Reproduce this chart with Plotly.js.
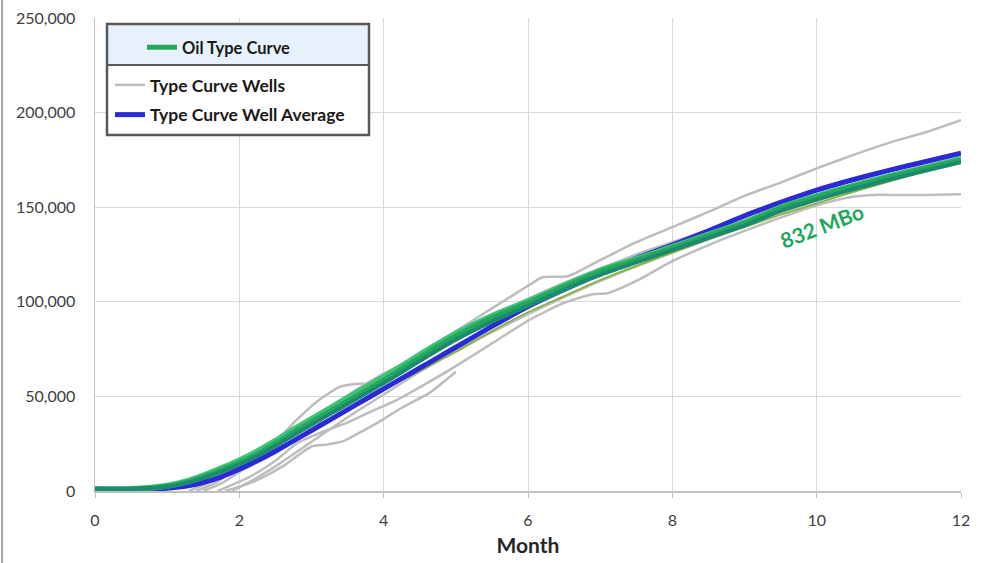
<!DOCTYPE html>
<html>
<head>
<meta charset="utf-8">
<script src="https://cdn.plot.ly/plotly-3.0.1.min.js"></script>
<style>
html,body{margin:0;padding:0;background:#fff;}
#chart{width:984px;height:563px;}
</style>
</head>
<body>
<div id="chart"></div>
<script>
// ---------- DATA ----------
const months = [0,0.5,1,1.25,1.5,1.75,2,2.25,2.5,2.75,3,3.25,3.5,3.75,4,4.25,4.5,4.75,5,5.5,6,6.5,7,7.5,8,8.5,9,9.5,10,10.5,11,11.5,12];

// Oil type curve band (several green shades) and a thin olive curve
const typeCurveMain  = [1000,1000,2500,4500,7500,11000,15000,19500,25000,31000,36500,42000,47500,53000,58500,64500,70500,76500,82000,91500,99500,108000,116000,122000,128500,135000,141500,149500,155500,161000,166000,170500,175000];
const typeCurveTeal  = [1000,1000,2200,4000,6800,10200,14000,18500,23800,29500,35000,40500,46000,51500,57000,62800,68700,74500,80000,89500,97800,106300,114200,120800,127300,133800,140200,148000,154000,159500,164500,169200,173800];
const typeCurveLight = [1000,1000,2800,5000,8200,12000,16200,21000,26500,32500,38000,43600,49200,54800,60300,66000,72000,77800,83200,92500,100300,108600,116500,122600,129000,135500,142000,149800,155800,161300,166300,170800,175400];
const typeCurveOlive = [1000,1000,2000,3800,6300,9500,13000,17000,21500,26500,31500,37000,42500,48000,53500,58500,63500,68500,73500,84500,94500,103000,111500,119000,126000,133000,139500,146000,152000,158000,163500,169000,174000];

// Type curve well average
const wellAverage = [1000,1000,1500,2500,4500,7500,11500,16000,21000,26500,32000,37500,43000,48500,54000,59500,65000,70500,76000,87000,97500,106500,115000,123000,130000,137500,145500,152500,159000,164500,169500,174000,178500];

// Individual type curve wells
const wellA_x = [1.5,1.75,2,2.25,2.5,2.75,3,3.25,3.5,3.75,4,4.5,5,5.5,6,6.2,6.55,7,7.5,8,8.5,9,9.5,10,10.5,11,11.5,12];
const wellA_y = [0,4000,10000,16000,23000,30000,37000,44000,50500,56500,62000,72000,84500,96500,108500,113000,113500,122000,131500,139500,147500,156000,163000,170500,177500,184000,189500,196000];

const wellB_x = [1.7,2.15,2.5,2.79,3.1,3.49,3.8,4.18,4.6,5,5.5,6,6.5,6.9,7.1,7.5,8,8.5,9,9.5,10,10.5,10.8,11,11.5,12];
const wellB_y = [0,7600,16000,25000,30500,36000,41500,48000,57000,66000,78000,90000,99500,104000,104500,111000,121500,130000,137500,144500,151000,155500,156500,156500,156500,156800];

const wellC_x = [1.8,2.2,2.6,3.0,3.2,3.45,3.7,4.0,4.25,4.64,5.0];
const wellC_y = [0,5000,13000,23500,24500,26500,31500,38000,44000,52000,63000];

const wellD_x = [1.4,1.7,2,2.33,2.6,2.79,3.1,3.39,3.6,3.81,4.1,4.5,5,5.5,6,6.5,7,7.5,8,9,10,11,12];
const wellD_y = [0,5000,13000,21700,30000,37500,48000,55000,56500,57000,62000,70500,81500,92000,101500,110000,117500,125000,131500,144500,156500,167000,176500];

const wellE_x = [1.3,1.6,2,2.5,3,3.5,4,4.5,5,6,7,8,9,10,11,12];
const wellE_y = [0,5000,14000,26000,38000,49000,60000,71000,82000,101000,117000,130500,143000,155000,165500,175000];

const wellF_x = [1.9,2.2,2.5,3,3.5,4,4.5,5,5.5,6,6.5,7,8,9,10,11,12];
const wellF_y = [0,6000,13000,26000,39000,51000,63000,74000,84000,93500,102500,111000,126000,140000,153500,165000,175500];

const legendNames = ['Oil Type Curve','Type Curve Wells','Type Curve Well Average'];
const xTitle = 'Month';
const annotationText = '832 MBo';

// ---------- LAYOUT HELPERS ----------
const W = 984, H = 563;
const M = {l:95, r:23, t:18, b:72};
const PW = W - M.l - M.r, PH = H - M.t - M.b;
const px = x => (x - M.l) / PW;
const py = y => (H - M.b - y) / PH;

const FONT = 'Lato, "Open Sans", sans-serif';
const GRAY = '#bdbdbd';

const wells = [[wellA_x,wellA_y],[wellB_x,wellB_y],[wellC_x,wellC_y],[wellD_x,wellD_y],[wellE_x,wellE_y],[wellF_x,wellF_y]];
const traces = [];
wells.forEach((w,i) => {
  traces.push({
    x: w[0], y: w[1], type:'scatter', mode:'lines',
    line:{color:GRAY, width:2.5, shape:'spline', smoothing:0.6},
    name: legendNames[1], legendgroup:'wells', showlegend: i===0,
    legend:'legend', hoverinfo:'skip'
  });
});
traces.push({x:months, y:typeCurveOlive, type:'scatter', mode:'lines', line:{color:'#86b23e', width:1.8, shape:'spline', smoothing:0.6}, showlegend:false, hoverinfo:'skip'});
traces.push({x:months, y:wellAverage, type:'scatter', mode:'lines', line:{color:'#2a2ad6', width:5, shape:'spline', smoothing:0.6}, name:legendNames[2], legendgroup:'avg', showlegend:true, legend:'legend', hoverinfo:'skip'});
traces.push({x:months, y:typeCurveLight, type:'scatter', mode:'lines', line:{color:'#3cc47a', width:6, shape:'spline', smoothing:0.6}, showlegend:false, hoverinfo:'skip'});
traces.push({x:months, y:typeCurveMain, type:'scatter', mode:'lines', line:{color:'#26a85a', width:5, shape:'spline', smoothing:0.6}, name:legendNames[0], legendgroup:'tc', showlegend:true, legend:'legend2', hoverinfo:'skip'});
traces.push({x:months, y:typeCurveTeal, type:'scatter', mode:'lines', line:{color:'#1b8a6e', width:4, shape:'spline', smoothing:0.6}, showlegend:false, hoverinfo:'skip'});

const layout = {
  width:W, height:H,
  margin:M,
  paper_bgcolor:'#fff', plot_bgcolor:'#fff',
  font:{family:FONT, color:'#404040', size:16},
  showlegend:true,
  xaxis:{
    range:[0,12], dtick:2, tick0:0,
    showgrid:true, gridcolor:'#d9d9d9', gridwidth:1,
    showline:true, linecolor:'#bfbfbf', linewidth:1.5,
    zeroline:false,
    ticks:'outside', ticklen:5, tickcolor:'#bfbfbf',
    ticklabelstandoff:9,
    tickfont:{family:FONT, size:16, color:'#404040'},
    title:{text:xTitle, font:{family:FONT, size:21, color:'#262626', weight:'bold'}, standoff:10},
    fixedrange:true
  },
  yaxis:{
    range:[0,250000], dtick:50000, tick0:0,
    showgrid:true, gridcolor:'#d9d9d9', gridwidth:1,
    showline:true, linecolor:'#bfbfbf', linewidth:1.5,
    zeroline:false,
    ticks:'', tickformat:',d',
    ticklabelstandoff:15,
    tickfont:{family:FONT, size:16, color:'#404040'},
    fixedrange:true
  },
  legend:{
    x:px(110), y:py(67), xanchor:'left', yanchor:'top',
    bgcolor:'rgba(0,0,0,0)', borderwidth:0,
    traceorder:'grouped', tracegroupgap:4,
    font:{family:FONT, size:17.5, color:'#1a1a1a', weight:'bold'},
    itemwidth:30
  },
  legend2:{
    x:px(142), y:py(30), xanchor:'left', yanchor:'top',
    bgcolor:'rgba(0,0,0,0)', borderwidth:0,
    font:{family:FONT, size:16.5, color:'#1a1a1a', weight:'bold'},
    itemwidth:30
  },
  shapes:[
    {type:'rect', xref:'paper', yref:'paper', x0:px(107), x1:px(369), y0:py(65), y1:py(24), fillcolor:'#e7f1fb', line:{width:0}, layer:'above'},
    {type:'rect', xref:'paper', yref:'paper', x0:px(107), x1:px(369), y0:py(135), y1:py(65), fillcolor:'#ffffff', line:{width:0}, layer:'above'},
    {type:'line', xref:'paper', yref:'paper', x0:px(107), x1:px(369), y0:py(65), y1:py(65), line:{color:'#595959', width:2}, layer:'above'},
    {type:'rect', xref:'paper', yref:'paper', x0:px(107), x1:px(369), y0:py(135), y1:py(24), line:{color:'#595959', width:2.5}, layer:'above'},
    {type:'line', xref:'paper', yref:'paper', x0:px(2), x1:px(2), y0:py(563), y1:py(0), line:{color:'#a6a6a6', width:2}, layer:'above'}
  ],
  annotations:[
    {x:10.07, y:140500, xref:'x', yref:'y', text:annotationText, showarrow:false, textangle:-21,
     font:{family:FONT, size:21, color:'#1fa85a', weight:'bold'}}
  ]
};

Plotly.newPlot('chart', traces, layout, {displayModeBar:false, staticPlot:true});
</script>
</body>
</html>
